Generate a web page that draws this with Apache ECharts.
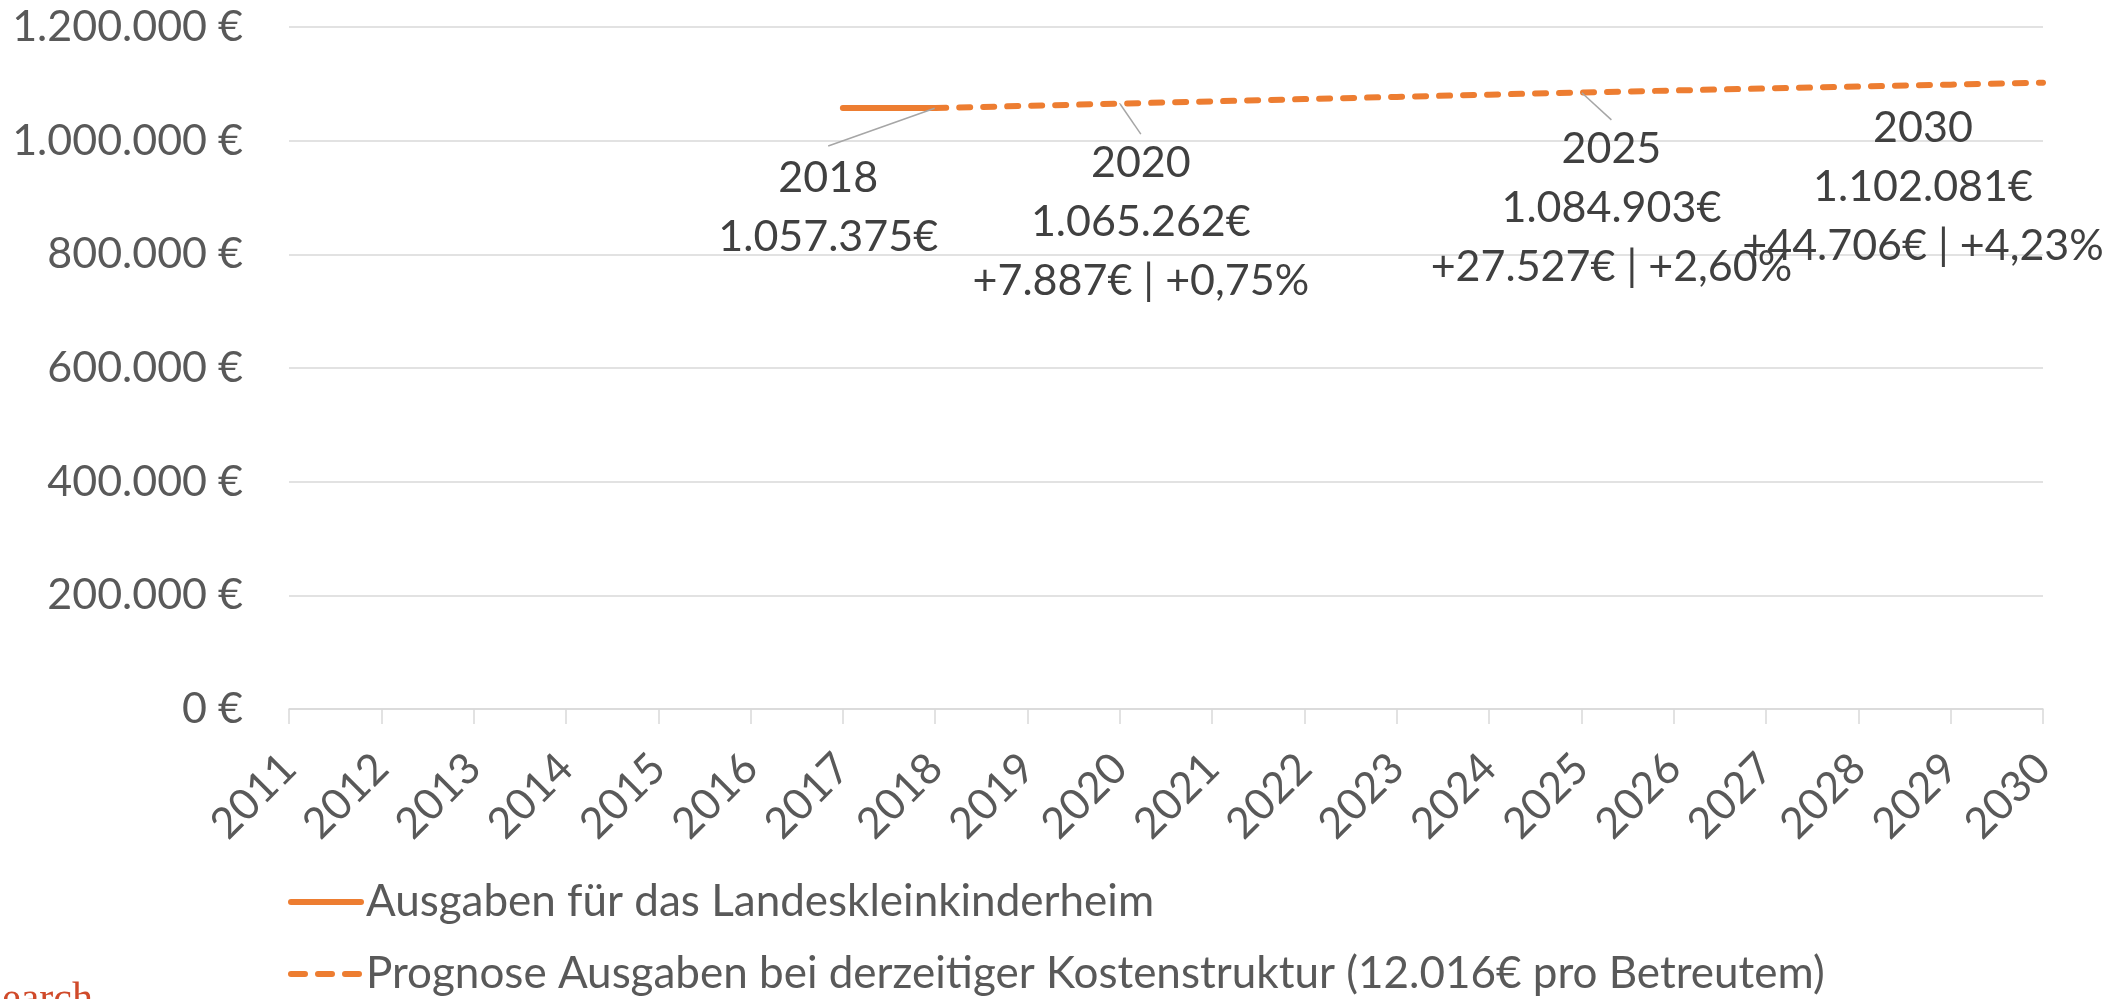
<!DOCTYPE html>
<html>
<head>
<meta charset="utf-8">
<script src="https://cdn.jsdelivr.net/npm/echarts@6/dist/echarts.min.js"></script>
<style>
  html, body { margin: 0; padding: 0; background: #fff; }
  #chart { width: 2126px; height: 999px; }
</style>
</head>
<body>
<div id="chart"></div>
<script>
// Jahre auf der x-Achse
const years = ['2011', '2012', '2013', '2014', '2015', '2016', '2017', '2018', '2019', '2020',
  '2021', '2022', '2023', '2024', '2025', '2026', '2027', '2028', '2029', '2030']

// Ausgaben (Ist) – nur 2017/2018
const actualValues = [null, null, null, null, null, null, 1057375, 1057375, null, null,
  null, null, null, null, null, null, null, null, null, null]

// Prognose ab 2018
const forecastValues = [null, null, null, null, null, null, null, 1057375, 1061300, 1065262,
  1069200, 1073100, 1077000, 1081000, 1084903, 1088300, 1091800, 1095200, 1098600, 1102081]

// Beschriftete Punkte
const labelYears = ['2018', '2020', '2025', '2030']
const labelAmounts = ['1.057.375€', '1.065.262€', '1.084.903€', '1.102.081€']
const labelChanges = ['', '+7.887€ | +0,75%', '+27.527€ | +2,60%', '+44.706€ | +4,23%']

const seriesNames = [
  'Ausgaben für das Landeskleinkinderheim',
  'Prognose Ausgaben bei derzeitiger Kostenstruktur (12.016€ pro Betreutem)'
]

// Verschiebung der Labels relativ zum Punkt (px)
const labelShift = [[-107, 100], [21, 119], [30, 116], [-120, 104]]
// Innenabstand der Labels (damit die Führungslinie oben ansetzt)
const labelPadding = [[6, 80, 0, 80], [0, 0, 0, 0], [0, 0, 0, 0], [0, 0, 0, 0]]

const ORANGE = '#ED7D31'
const GRID = '#d9d9d9'
const FONT = 'Lato'

const fmt = v => String(v).replace(/\B(?=(\d{3})+(?!\d))/g, '.')

const forecastData = forecastValues.map((v, i) => {
  const k = labelYears.indexOf(years[i])
  if (k < 0) return v
  const lines = [labelYears[k], labelAmounts[k]]
  if (labelChanges[k]) lines.push(labelChanges[k])
  return {
    value: v,
    symbol: 'circle',
    symbolSize: 1,
    label: { show: true, formatter: lines.join('\n'), padding: labelPadding[k] },
    labelLine: { show: k !== 3 }
  }
})

const chart = echarts.init(document.getElementById('chart'), null, { renderer: 'canvas' })

const option = {
  animation: false,
  backgroundColor: '#fff',
  textStyle: { fontFamily: FONT },
  grid: { left: 289, right: 83, top: 27, bottom: 290, containLabel: false },
  xAxis: {
    type: 'category',
    data: years,
    boundaryGap: false,
    axisLine: { lineStyle: { color: GRID, width: 1.5 } },
    axisTick: { show: true, length: 15, interval: 0, lineStyle: { color: GRID, width: 1.5 } },
    axisLabel: { interval: 0, rotate: 45, margin: 52, fontSize: 43, color: '#595959', fontFamily: FONT }
  },
  yAxis: {
    type: 'value',
    min: 0,
    max: 1200000,
    interval: 200000,
    axisLine: { show: false },
    axisTick: { show: false },
    splitLine: { lineStyle: { color: GRID, width: 1.5 } },
    axisLabel: {
      margin: 46,
      fontSize: 43,
      color: '#595959',
      fontFamily: FONT,
      formatter: v => fmt(v) + ' €'
    }
  },
  legend: {
    orient: 'vertical',
    left: 288,
    top: 880,
    padding: 0,
    itemWidth: 70,
    itemHeight: 14,
    itemGap: 28,
    itemStyle: { opacity: 0 },
    lineStyle: { width: 6, cap: 'round' },
    textStyle: { fontSize: 44, color: '#595959', fontFamily: FONT },
    data: [
      { name: seriesNames[0] },
      { name: seriesNames[1], lineStyle: { width: 6, cap: 'round', type: [14, 13] } }
    ]
  },
  series: [
    {
      name: seriesNames[0],
      type: 'line',
      data: actualValues,
      symbol: 'none',
      lineStyle: { color: ORANGE, width: 6, cap: 'round' },
      itemStyle: { color: ORANGE }
    },
    {
      name: seriesNames[1],
      type: 'line',
      data: forecastData,
      symbol: 'none',
      lineStyle: { color: ORANGE, width: 6, type: [11, 13], cap: 'round' },
      itemStyle: { color: ORANGE },
      label: {
        position: 'inside',
        fontSize: 43,
        lineHeight: 59,
        color: '#404040',
        fontFamily: FONT,
        align: 'center',
        textBorderWidth: 0
      },
      labelLine: {
        smooth: false,
        length2: 0,
        lineStyle: { color: '#a6a6a6', width: 1.5 }
      },
      labelLayout: params => {
        const k = labelYears.indexOf(years[params.dataIndex])
        if (params.seriesIndex !== 1 || k < 0) return {}
        return { dx: labelShift[k][0], dy: labelShift[k][1] }
      }
    }
  ],
  graphic: [{
    type: 'text',
    left: -61,
    top: 979,
    style: { text: 'Research', font: '42px "Liberation Serif"', fill: '#d04a2a' }
  }]
}

chart.setOption(option)
</script>
</body>
</html>
